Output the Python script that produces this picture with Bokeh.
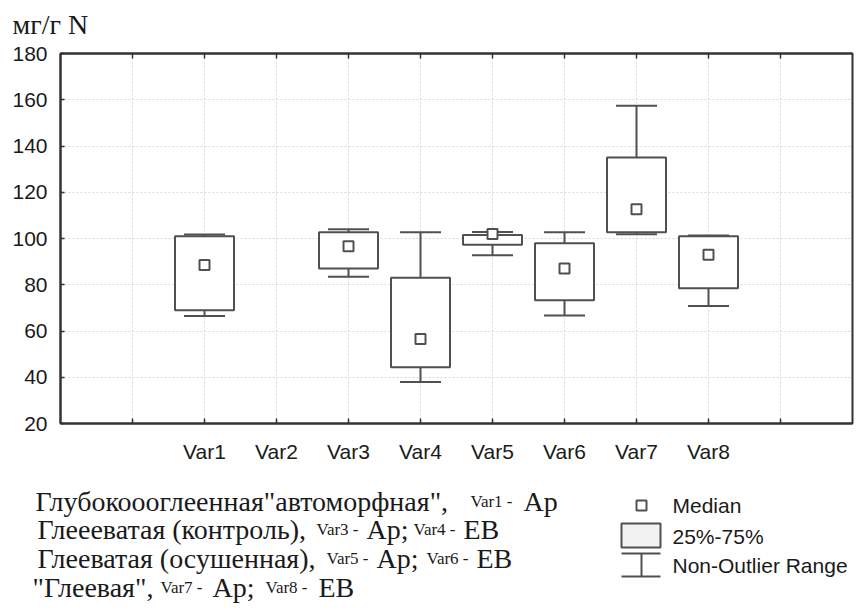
from bokeh.plotting import figure
from bokeh.models import Range1d, FixedTicker, LinearAxis, ColumnDataSource
from bokeh.core.properties import value
from bokeh.embed import file_html
from bokeh.resources import INLINE
import numpy as np

# ---- data ----
categories = ["Var1", "Var2", "Var3", "Var4", "Var5", "Var6", "Var7", "Var8"]
whisker_low = [66.5, np.nan, 83.5, 38.0, 92.8, 66.7, 101.8, 70.8]
q1 = [69.0, np.nan, 87.0, 44.3, 97.3, 73.3, 102.7, 78.5]
median = [88.5, np.nan, 96.7, 56.5, 102.0, 87.0, 112.7, 93.0]
q3 = [101.0, np.nan, 102.7, 83.0, 101.5, 98.0, 135.0, 101.0]
whisker_high = [101.7, np.nan, 104.0, 102.7, 102.8, 102.7, 157.4, 101.3]
y_ticks = [20, 40, 60, 80, 100, 120, 140, 160, 180]

INK = "#505050"
TXT = "#1a1a1a"
W = 858

def blank(height):
    f = figure(output_backend="svg", toolbar_location=None, title_location=None,
               x_axis_location=None, y_axis_location=None,
               frame_width=W, frame_height=height, min_border=0,
               x_range=Range1d(0, W), y_range=Range1d(height, 0),
               background_fill_color="white", border_fill_color="white")
    f.grid.visible = False
    f.outline_line_color = None
    return f

# ---- header with the unit label ----
h = blank(40)
h.text(x=[12], y=[24], text=["мг/г N"], text_font=value("Liberation Serif"),
       text_font_size=value("28px"), text_color=TXT, text_baseline="alphabetic")

# ---- main plot ----
pos = np.arange(len(categories)) + 2.0
src = ColumnDataSource(dict(
    x=pos, lo=whisker_low, q1=q1, med=median, q3=q3, hi=whisker_high,
    capl=pos - 0.285, capr=pos + 0.285,
))

p = figure(
    output_backend="svg", toolbar_location=None, title_location=None,
    frame_width=792, frame_height=370,
    min_border_left=60, min_border_right=6, min_border_top=13, min_border_bottom=57,
    x_range=Range1d(0, 11), y_range=Range1d(20, 180),
    background_fill_color="white", border_fill_color="white",
)
p.outline_line_color = "#333333"
p.outline_line_width = 2

xt = list(range(1, 11))
p.xaxis.ticker = FixedTicker(ticks=xt)
overrides = {t: "" for t in xt}
for i, c in enumerate(categories):
    overrides[i + 2] = c
p.xaxis.major_label_overrides = overrides
p.yaxis.ticker = FixedTicker(ticks=y_ticks)

for ax in (p.xaxis[0], p.yaxis[0]):
    ax.axis_line_color = "#333333"
    ax.axis_line_width = 2
    ax.major_tick_line_color = "#333333"
    ax.major_tick_line_width = 1.5
    ax.major_tick_out = 0
    ax.minor_tick_line_color = None
    ax.major_label_text_font = "Liberation Sans"
    ax.major_label_text_font_size = "21px"
    ax.major_label_text_color = TXT
p.xaxis.major_tick_in = 5
p.xaxis.major_label_standoff = 16
p.yaxis.major_tick_in = 4
p.yaxis.major_label_standoff = 13

top = LinearAxis(ticker=FixedTicker(ticks=xt), major_label_text_font_size="0px",
                 axis_line_color="#333333", axis_line_width=2,
                 major_tick_in=5, major_tick_out=0, major_tick_line_color="#333333",
                 major_tick_line_width=1.5, minor_tick_line_color=None,
                 major_label_standoff=0)
p.add_layout(top, "above")

p.xgrid.ticker = FixedTicker(ticks=xt)
p.ygrid.ticker = FixedTicker(ticks=y_ticks[1:-1])
for g in (p.xgrid[0], p.ygrid[0]):
    g.grid_line_color = "#d9d9d9"
    g.grid_line_dash = "2 2"
    g.grid_line_width = 1

p.segment(x0="x", y0="q3", x1="x", y1="hi", source=src, line_color=INK, line_width=2)
p.segment(x0="x", y0="q1", x1="x", y1="lo", source=src, line_color=INK, line_width=2)
p.segment(x0="capl", y0="hi", x1="capr", y1="hi", source=src, line_color=INK, line_width=2)
p.segment(x0="capl", y0="lo", x1="capr", y1="lo", source=src, line_color=INK, line_width=2)
p.vbar(x="x", width=0.82, bottom="q1", top="q3", source=src,
       fill_color="white", line_color=INK, line_width=2)
p.scatter(x="x", y="med", source=src, marker="square", size=10,
          fill_color="white", line_color=INK, line_width=2)

# ---- lower panel: caption and legend ----
H2 = 133
q = blank(H2)

BIG, SMALL = "28px", "17px"
caption = [
    # (x, baseline y, text, size)
    (35, 21, "Глубокоооглеенная\"автоморфная\",", BIG),
    (470, 21, "Var1 -", SMALL),
    (523, 21, "Ap", BIG),
    (37, 49, "Глеееватая (контроль),", BIG),
    (316, 49, "Var3 -", SMALL),
    (366, 49, "Ap;", BIG),
    (413, 49, "Var4 -", SMALL),
    (463, 49, "EB", BIG),
    (37, 78, "Глееватая (осушенная),", BIG),
    (326, 78, "Var5 -", SMALL),
    (376, 78, "Ap;", BIG),
    (426, 78, "Var6 -", SMALL),
    (476, 78, "EB", BIG),
    (32, 107, "\"Глеевая\",", BIG),
    (160, 107, "Var7 -", SMALL),
    (212, 107, "Ap;", BIG),
    (265, 107, "Var8 -", SMALL),
    (318, 107, "EB", BIG),
]
for size in (BIG, SMALL):
    rows = [c for c in caption if c[3] == size]
    q.text(x=[r[0] for r in rows], y=[r[1] for r in rows], text=[r[2] for r in rows],
           text_font=value("Liberation Serif"), text_font_size=value(size),
           text_color=TXT, text_baseline="alphabetic", text_align="left")

# legend icons
q.scatter(x=[641], y=[25], marker="square", size=10, fill_color="white",
          line_color=INK, line_width=2)
q.quad(left=[621], right=[660], top=[43], bottom=[67], fill_color="#f2f2f2",
       line_color=INK, line_width=2)
q.segment(x0=[621, 621, 641], y0=[73, 96, 73], x1=[660, 660, 641], y1=[73, 96, 96],
          line_color=INK, line_width=2)
q.text(x=[672, 672, 672], y=[25, 56, 85], text=["Median", "25%-75%", "Non-Outlier Range"],
       text_font=value("Liberation Sans"), text_font_size=value("21px"),
       text_color=TXT, text_baseline="middle", text_align="left")

open("out.html", "w").write(file_html([h, p, q], INLINE))
